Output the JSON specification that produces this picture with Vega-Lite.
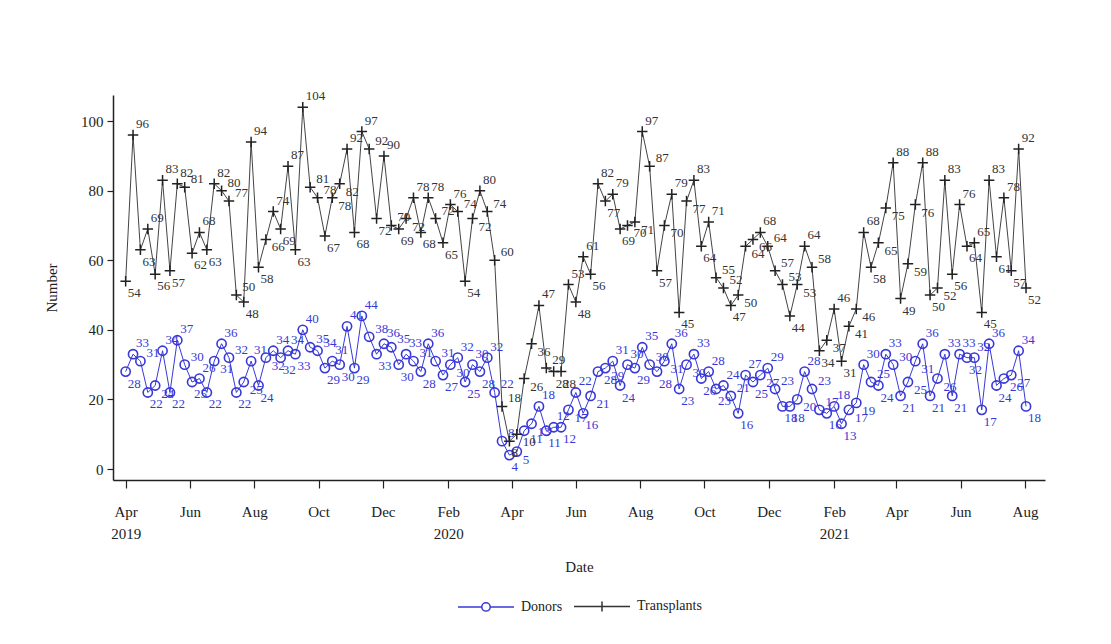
{
  "$schema": "https://vega.github.io/schema/vega-lite/v6.json",
  "autosize": "none",
  "width": 932,
  "height": 385,
  "padding": {"left": 113, "top": 95, "right": 66, "bottom": 164},
  "background": "white",
  "config": {
    "font": "Liberation Serif",
    "view": {"stroke": null},
    "axis": {"domainColor": "#222", "tickColor": "#222", "labelColor": "#222", "titleColor": "#222", "grid": false, "labelFontSize": 15, "titleFontSize": 15, "titleFontWeight": "normal", "domainWidth": 1.5, "tickWidth": 1.2}
  },
  "data": {
    "values": [
      {"date": "2019-04-01", "Donors": 28, "Transplants": 54},
      {"date": "2019-04-08", "Donors": 33, "Transplants": 96},
      {"date": "2019-04-15", "Donors": 31, "Transplants": 63},
      {"date": "2019-04-22", "Donors": 22, "Transplants": 69},
      {"date": "2019-04-29", "Donors": 24, "Transplants": 56},
      {"date": "2019-05-06", "Donors": 34, "Transplants": 83},
      {"date": "2019-05-13", "Donors": 22, "Transplants": 57},
      {"date": "2019-05-20", "Donors": 37, "Transplants": 82},
      {"date": "2019-05-27", "Donors": 30, "Transplants": 81},
      {"date": "2019-06-03", "Donors": 25, "Transplants": 62},
      {"date": "2019-06-10", "Donors": 26, "Transplants": 68},
      {"date": "2019-06-17", "Donors": 22, "Transplants": 63},
      {"date": "2019-06-24", "Donors": 31, "Transplants": 82},
      {"date": "2019-07-01", "Donors": 36, "Transplants": 80},
      {"date": "2019-07-08", "Donors": 32, "Transplants": 77},
      {"date": "2019-07-15", "Donors": 22, "Transplants": 50},
      {"date": "2019-07-22", "Donors": 25, "Transplants": 48},
      {"date": "2019-07-29", "Donors": 31, "Transplants": 94},
      {"date": "2019-08-05", "Donors": 24, "Transplants": 58},
      {"date": "2019-08-12", "Donors": 32, "Transplants": 66},
      {"date": "2019-08-19", "Donors": 34, "Transplants": 74},
      {"date": "2019-08-26", "Donors": 32, "Transplants": 69},
      {"date": "2019-09-02", "Donors": 34, "Transplants": 87},
      {"date": "2019-09-09", "Donors": 33, "Transplants": 63},
      {"date": "2019-09-16", "Donors": 40, "Transplants": 104},
      {"date": "2019-09-23", "Donors": 35, "Transplants": 81},
      {"date": "2019-09-30", "Donors": 34, "Transplants": 78},
      {"date": "2019-10-07", "Donors": 29, "Transplants": 67},
      {"date": "2019-10-14", "Donors": 31, "Transplants": 78},
      {"date": "2019-10-21", "Donors": 30, "Transplants": 82},
      {"date": "2019-10-28", "Donors": 41, "Transplants": 92},
      {"date": "2019-11-04", "Donors": 29, "Transplants": 68},
      {"date": "2019-11-11", "Donors": 44, "Transplants": 97},
      {"date": "2019-11-18", "Donors": 38, "Transplants": 92},
      {"date": "2019-11-25", "Donors": 33, "Transplants": 72},
      {"date": "2019-12-02", "Donors": 36, "Transplants": 90},
      {"date": "2019-12-09", "Donors": 35, "Transplants": 70},
      {"date": "2019-12-16", "Donors": 30, "Transplants": 69},
      {"date": "2019-12-23", "Donors": 33, "Transplants": 72},
      {"date": "2019-12-30", "Donors": 31, "Transplants": 78},
      {"date": "2020-01-06", "Donors": 28, "Transplants": 68},
      {"date": "2020-01-13", "Donors": 36, "Transplants": 78},
      {"date": "2020-01-20", "Donors": 31, "Transplants": 72},
      {"date": "2020-01-27", "Donors": 27, "Transplants": 65},
      {"date": "2020-02-03", "Donors": 30, "Transplants": 76},
      {"date": "2020-02-10", "Donors": 32, "Transplants": 74},
      {"date": "2020-02-17", "Donors": 25, "Transplants": 54},
      {"date": "2020-02-24", "Donors": 30, "Transplants": 72},
      {"date": "2020-03-02", "Donors": 28, "Transplants": 80},
      {"date": "2020-03-09", "Donors": 32, "Transplants": 74},
      {"date": "2020-03-16", "Donors": 22, "Transplants": 60},
      {"date": "2020-03-23", "Donors": 8, "Transplants": 18},
      {"date": "2020-03-30", "Donors": 4, "Transplants": 8},
      {"date": "2020-04-06", "Donors": 5, "Transplants": 10},
      {"date": "2020-04-13", "Donors": 11, "Transplants": 26},
      {"date": "2020-04-20", "Donors": 13, "Transplants": 36},
      {"date": "2020-04-27", "Donors": 18, "Transplants": 47},
      {"date": "2020-05-04", "Donors": 11, "Transplants": 29},
      {"date": "2020-05-11", "Donors": 12, "Transplants": 28},
      {"date": "2020-05-18", "Donors": 12, "Transplants": 28},
      {"date": "2020-05-25", "Donors": 17, "Transplants": 53},
      {"date": "2020-06-01", "Donors": 22, "Transplants": 48},
      {"date": "2020-06-08", "Donors": 16, "Transplants": 61},
      {"date": "2020-06-15", "Donors": 21, "Transplants": 56},
      {"date": "2020-06-22", "Donors": 28, "Transplants": 82},
      {"date": "2020-06-29", "Donors": 29, "Transplants": 77},
      {"date": "2020-07-06", "Donors": 31, "Transplants": 79},
      {"date": "2020-07-13", "Donors": 24, "Transplants": 69},
      {"date": "2020-07-20", "Donors": 30, "Transplants": 70},
      {"date": "2020-07-27", "Donors": 29, "Transplants": 71},
      {"date": "2020-08-03", "Donors": 35, "Transplants": 97},
      {"date": "2020-08-10", "Donors": 30, "Transplants": 87},
      {"date": "2020-08-17", "Donors": 28, "Transplants": 57},
      {"date": "2020-08-24", "Donors": 31, "Transplants": 70},
      {"date": "2020-08-31", "Donors": 36, "Transplants": 79},
      {"date": "2020-09-07", "Donors": 23, "Transplants": 45},
      {"date": "2020-09-14", "Donors": 30, "Transplants": 77},
      {"date": "2020-09-21", "Donors": 33, "Transplants": 83},
      {"date": "2020-09-28", "Donors": 26, "Transplants": 64},
      {"date": "2020-10-05", "Donors": 28, "Transplants": 71},
      {"date": "2020-10-12", "Donors": 23, "Transplants": 55},
      {"date": "2020-10-19", "Donors": 24, "Transplants": 52},
      {"date": "2020-10-26", "Donors": 21, "Transplants": 47},
      {"date": "2020-11-02", "Donors": 16, "Transplants": 50},
      {"date": "2020-11-09", "Donors": 27, "Transplants": 64},
      {"date": "2020-11-16", "Donors": 25, "Transplants": 66},
      {"date": "2020-11-23", "Donors": 27, "Transplants": 68},
      {"date": "2020-11-30", "Donors": 29, "Transplants": 64},
      {"date": "2020-12-07", "Donors": 23, "Transplants": 57},
      {"date": "2020-12-14", "Donors": 18, "Transplants": 53},
      {"date": "2020-12-21", "Donors": 18, "Transplants": 44},
      {"date": "2020-12-28", "Donors": 20, "Transplants": 53},
      {"date": "2021-01-04", "Donors": 28, "Transplants": 64},
      {"date": "2021-01-11", "Donors": 23, "Transplants": 58},
      {"date": "2021-01-18", "Donors": 17, "Transplants": 34},
      {"date": "2021-01-25", "Donors": 16, "Transplants": 37},
      {"date": "2021-02-01", "Donors": 18, "Transplants": 46},
      {"date": "2021-02-08", "Donors": 13, "Transplants": 31},
      {"date": "2021-02-15", "Donors": 17, "Transplants": 41},
      {"date": "2021-02-22", "Donors": 19, "Transplants": 46},
      {"date": "2021-03-01", "Donors": 30, "Transplants": 68},
      {"date": "2021-03-08", "Donors": 25, "Transplants": 58},
      {"date": "2021-03-15", "Donors": 24, "Transplants": 65},
      {"date": "2021-03-22", "Donors": 33, "Transplants": 75},
      {"date": "2021-03-29", "Donors": 30, "Transplants": 88},
      {"date": "2021-04-05", "Donors": 21, "Transplants": 49},
      {"date": "2021-04-12", "Donors": 25, "Transplants": 59},
      {"date": "2021-04-19", "Donors": 31, "Transplants": 76},
      {"date": "2021-04-26", "Donors": 36, "Transplants": 88},
      {"date": "2021-05-03", "Donors": 21, "Transplants": 50},
      {"date": "2021-05-10", "Donors": 26, "Transplants": 52},
      {"date": "2021-05-17", "Donors": 33, "Transplants": 83},
      {"date": "2021-05-24", "Donors": 21, "Transplants": 56},
      {"date": "2021-05-31", "Donors": 33, "Transplants": 76},
      {"date": "2021-06-07", "Donors": 32, "Transplants": 64},
      {"date": "2021-06-14", "Donors": 32, "Transplants": 65},
      {"date": "2021-06-21", "Donors": 17, "Transplants": 45},
      {"date": "2021-06-28", "Donors": 36, "Transplants": 83},
      {"date": "2021-07-05", "Donors": 24, "Transplants": 61},
      {"date": "2021-07-12", "Donors": 26, "Transplants": 78},
      {"date": "2021-07-19", "Donors": 27, "Transplants": 57},
      {"date": "2021-07-26", "Donors": 34, "Transplants": 92},
      {"date": "2021-08-02", "Donors": 18, "Transplants": 52}
    ]
  },
  "transform": [{"fold": ["Donors", "Transplants"], "as": ["series", "value"]}],
  "encoding": {
    "x": {
      "field": "date", "type": "temporal", "title": "Date",
      "scale": {"type": "utc", "domain": [{"year": 2019, "month": 3, "date": 20, "utc": true}, {"year": 2021, "month": 8, "date": 20, "utc": true}]},
      "axis": {
        "values": [
          {"year": 2019, "month": 4, "date": 1, "utc": true}, {"year": 2019, "month": 6, "date": 1, "utc": true},
          {"year": 2019, "month": 8, "date": 1, "utc": true}, {"year": 2019, "month": 10, "date": 1, "utc": true},
          {"year": 2019, "month": 12, "date": 1, "utc": true}, {"year": 2020, "month": 2, "date": 1, "utc": true},
          {"year": 2020, "month": 4, "date": 1, "utc": true}, {"year": 2020, "month": 6, "date": 1, "utc": true},
          {"year": 2020, "month": 8, "date": 1, "utc": true}, {"year": 2020, "month": 10, "date": 1, "utc": true},
          {"year": 2020, "month": 12, "date": 1, "utc": true}, {"year": 2021, "month": 2, "date": 1, "utc": true},
          {"year": 2021, "month": 4, "date": 1, "utc": true}, {"year": 2021, "month": 6, "date": 1, "utc": true},
          {"year": 2021, "month": 8, "date": 1, "utc": true}
        ],
        "labelExpr": "(utcmonth(datum.value) == 1 || (utcyear(datum.value) == 2019 && utcmonth(datum.value) == 3)) ? [utcFormat(datum.value, '%b'), utcFormat(datum.value, '%Y')] : utcFormat(datum.value, '%b')",
        "labelBaseline": "top", "labelLineHeight": 22, "labelPadding": 16, "tickSize": 8,
        "labelFlush": false, "labelOverlap": false,
        "titleY": 86, "titleBaseline": "middle"
      }
    },
    "y": {
      "field": "value", "type": "quantitative", "title": "Number",
      "scale": {"domain": [-3.16, 107.5], "nice": false, "zero": false},
      "axis": {"values": [0, 20, 40, 60, 80, 100], "tickSize": 6, "labelPadding": 4, "titleX": -62, "titleBaseline": "middle", "titleAngle": -90}
    }
  },
  "layer": [
    {
      "transform": [
        {"filter": "datum.series == 'Donors'"},
        {"window": [{"op": "lag", "field": "value", "as": "prev"}, {"op": "lead", "field": "value", "as": "next"}], "sort": [{"field": "date"}]}
      ],
      "layer": [
        {"mark": {"type": "line", "color": "#3838d8", "strokeWidth": 1}},
        {"mark": {"type": "point", "shape": "circle", "filled": false, "color": "#3838d8", "size": 85, "strokeWidth": 1.6, "opacity": 1}},
        {
          "transform": [{"filter": "(datum.prev == null || datum.value >= datum.prev) && (datum.next == null || datum.value >= datum.next)"}],
          "mark": {"type": "text", "color": "#3838d8", "fontSize": 13, "align": "left", "baseline": "middle", "dx": 3, "dy": -11},
          "encoding": {"text": {"field": "value", "type": "quantitative", "format": "d"}}
        },
        {
          "transform": [{"filter": "!((datum.prev == null || datum.value >= datum.prev) && (datum.next == null || datum.value >= datum.next)) && (datum.prev == null || datum.value <= datum.prev) && (datum.next == null || datum.value <= datum.next)"}],
          "mark": {"type": "text", "color": "#3838d8", "fontSize": 13, "align": "left", "baseline": "middle", "dx": 2, "dy": 12},
          "encoding": {"text": {"field": "value", "type": "quantitative", "format": "d"}}
        },
        {
          "transform": [{"filter": "datum.prev != null && datum.next != null && datum.value > datum.prev && datum.value < datum.next"}],
          "mark": {"type": "text", "color": "#3838d8", "fontSize": 13, "align": "left", "baseline": "middle", "dx": 6, "dy": 8},
          "encoding": {"text": {"field": "value", "type": "quantitative", "format": "d"}}
        },
        {
          "transform": [{"filter": "datum.prev != null && datum.next != null && datum.value < datum.prev && datum.value > datum.next"}],
          "mark": {"type": "text", "color": "#3838d8", "fontSize": 13, "align": "left", "baseline": "middle", "dx": 6, "dy": -8},
          "encoding": {"text": {"field": "value", "type": "quantitative", "format": "d"}}
        }
      ]
    },
    {
      "transform": [
        {"filter": "datum.series == 'Transplants'"},
        {"window": [{"op": "lag", "field": "value", "as": "prev"}, {"op": "lead", "field": "value", "as": "next"}], "sort": [{"field": "date"}]}
      ],
      "layer": [
        {"mark": {"type": "line", "color": "#444444", "strokeWidth": 1}},
        {"mark": {"type": "point", "shape": "M-1,0H1M0,-1V1", "filled": false, "color": "#222222", "size": 110, "strokeWidth": 1.5, "opacity": 1}},
        {
          "transform": [{"filter": "(datum.prev == null || datum.value >= datum.prev) && (datum.next == null || datum.value >= datum.next)"}],
          "mark": {"type": "text", "color": "#333333", "fontSize": 13, "align": "left", "baseline": "middle", "dx": 3, "dy": -11},
          "encoding": {"text": {"field": "value", "type": "quantitative", "format": "d"}}
        },
        {
          "transform": [{"filter": "!((datum.prev == null || datum.value >= datum.prev) && (datum.next == null || datum.value >= datum.next)) && (datum.prev == null || datum.value <= datum.prev) && (datum.next == null || datum.value <= datum.next)"}],
          "mark": {"type": "text", "color": "#333333", "fontSize": 13, "align": "left", "baseline": "middle", "dx": 2, "dy": 12},
          "encoding": {"text": {"field": "value", "type": "quantitative", "format": "d"}}
        },
        {
          "transform": [{"filter": "datum.prev != null && datum.next != null && datum.value > datum.prev && datum.value < datum.next"}],
          "mark": {"type": "text", "color": "#333333", "fontSize": 13, "align": "left", "baseline": "middle", "dx": 6, "dy": 8},
          "encoding": {"text": {"field": "value", "type": "quantitative", "format": "d"}}
        },
        {
          "transform": [{"filter": "datum.prev != null && datum.next != null && datum.value < datum.prev && datum.value > datum.next"}],
          "mark": {"type": "text", "color": "#333333", "fontSize": 13, "align": "left", "baseline": "middle", "dx": 6, "dy": -8},
          "encoding": {"text": {"field": "value", "type": "quantitative", "format": "d"}}
        }
      ]
    },
    {
      "mark": {"type": "point", "filled": false, "opacity": 0, "strokeWidth": 1.5},
      "encoding": {
        "color": {
          "field": "series", "type": "nominal",
          "scale": {"domain": ["Donors", "Transplants"], "range": ["#3838d8", "#333333"]},
          "legend": {"title": null, "orient": "none", "direction": "horizontal", "legendX": 344, "legendY": 482, "symbolSize": 3136, "symbolStrokeWidth": 1.5, "symbolOpacity": 1, "labelFontSize": 14, "labelOffset": 6, "columnPadding": 8, "labelColor": "#222"}
        },
        "shape": {
          "field": "series", "type": "nominal",
          "scale": {"domain": ["Donors", "Transplants"], "range": ["M-1,0H-0.15A0.15,0.15 0 1,1 0.15,0A0.15,0.15 0 1,1 -0.15,0M0.15,0H1", "M-1,0H1M0,-0.18V0.18"]},
          "legend": {"title": null, "orient": "none", "direction": "horizontal", "legendX": 344, "legendY": 482, "symbolSize": 3136, "symbolStrokeWidth": 1.5, "symbolOpacity": 1, "labelFontSize": 14, "labelOffset": 6, "columnPadding": 8, "labelColor": "#222"}
        }
      }
    }
  ]
}
